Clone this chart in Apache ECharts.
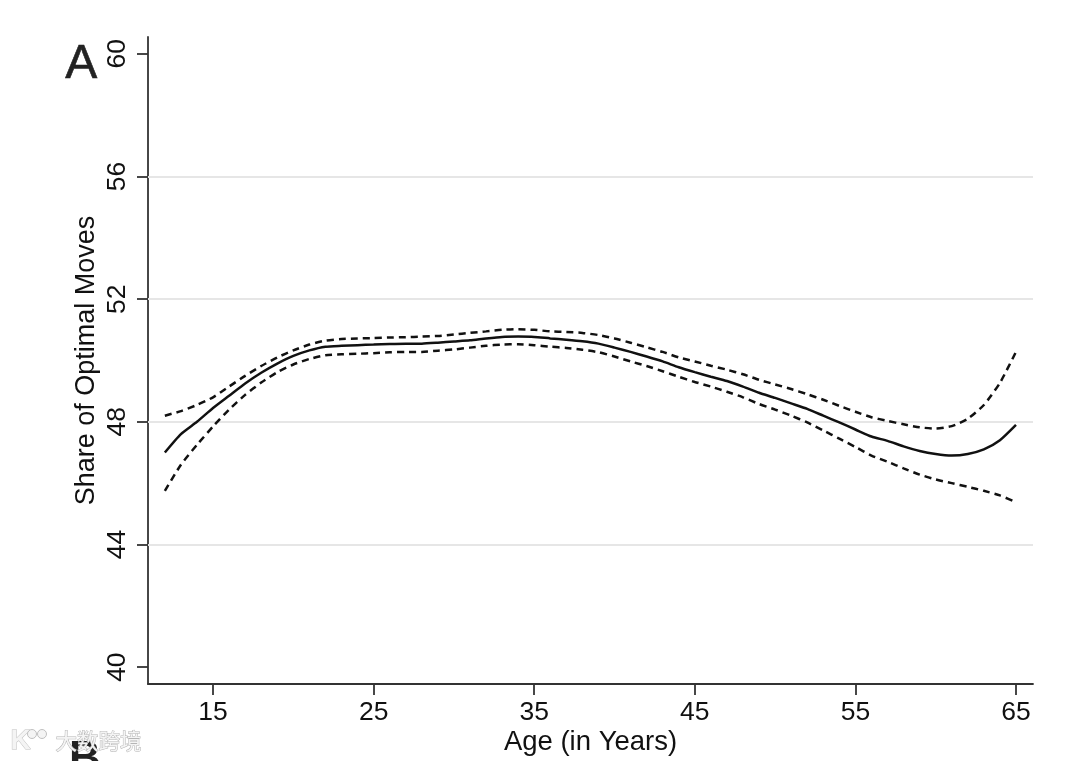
<!DOCTYPE html>
<html><head><meta charset="utf-8">
<style>html,body{margin:0;padding:0;background:#fff}#c{width:1080px;height:761px}</style>
<script src="https://cdn.jsdelivr.net/npm/echarts@6/dist/echarts.min.js"></script>
</head><body><div id="c"></div>
<script>
const ages = [12,13,14,15,16,17,18,19,20,21,22,23,24,25,26,27,28,29,30,31,32,33,34,35,36,37,38,39,40,41,42,43,44,45,46,47,48,49,50,51,52,53,54,55,56,57,58,59,60,61,62,63,64,65];
const mid = [47.0,47.6,48.0,48.45,48.85,49.25,49.6,49.9,50.15,50.33,50.45,50.48,50.5,50.52,50.54,50.55,50.55,50.58,50.62,50.66,50.72,50.77,50.78,50.77,50.72,50.68,50.63,50.55,50.42,50.28,50.13,49.97,49.78,49.62,49.47,49.33,49.15,48.95,48.78,48.6,48.42,48.2,47.98,47.75,47.52,47.38,47.2,47.05,46.95,46.9,46.95,47.1,47.4,47.9];
const upper = [48.2,48.35,48.55,48.8,49.15,49.5,49.82,50.1,50.33,50.52,50.65,50.7,50.72,50.73,50.75,50.76,50.78,50.8,50.85,50.9,50.95,51.0,51.02,51.0,50.95,50.93,50.9,50.83,50.72,50.58,50.43,50.28,50.1,49.97,49.83,49.7,49.55,49.37,49.22,49.07,48.9,48.72,48.52,48.33,48.15,48.03,47.92,47.82,47.78,47.86,48.1,48.55,49.27,50.28];
const lower = [45.75,46.6,47.25,47.85,48.4,48.88,49.28,49.62,49.87,50.05,50.17,50.2,50.22,50.24,50.27,50.28,50.28,50.32,50.36,50.42,50.48,50.52,50.53,50.5,50.45,50.41,50.35,50.27,50.13,49.97,49.82,49.65,49.47,49.3,49.15,48.98,48.8,48.58,48.4,48.2,47.98,47.72,47.45,47.18,46.9,46.7,46.48,46.28,46.12,46.0,45.88,45.75,45.6,45.38];
const xTicks = [15,25,35,45,55,65];
const yTicks = [40,44,48,52,56,60];
const gridValues = [44,48,52,56];
const yTitle = 'Share of Optimal Moves';
const xTitle = 'Age (in Years)';

const FONT = '"Liberation Sans", Arial, sans-serif';
const INK = '#333';
const zip = a => ages.map((x,i)=>[x,a[i]]);
const chart = echarts.init(document.getElementById('c'), null, {renderer:'canvas'});
chart.setOption({
  animation:false,
  backgroundColor:'#fff',
  grid:{left:148,right:47,top:37,height:647,outerBoundsMode:'none'},
  xAxis:{
    type:'value',min:10.95,max:66.06,
    name:xTitle,nameLocation:'middle',nameGap:44.5,nameMoveOverlap:false,
    nameTextStyle:{fontFamily:FONT,fontSize:27.5,color:'#111'},
    axisLine:{onZero:false,lineStyle:{color:INK,width:1.8}},
    axisTick:{length:11,customValues:xTicks,lineStyle:{color:INK,width:1.8}},
    axisLabel:{customValues:xTicks,margin:15,fontFamily:FONT,fontSize:26.5,color:'#111'},
    splitLine:{show:false}
  },
  yAxis:{
    type:'value',min:39.45,max:60.55,
    name:yTitle,nameLocation:'middle',nameGap:48,nameMoveOverlap:false,
    nameTextStyle:{fontFamily:FONT,fontSize:27,color:'#111'},
    axisLine:{onZero:false,lineStyle:{color:INK,width:1.8}},
    axisTick:{length:11,customValues:yTicks,lineStyle:{color:INK,width:1.8}},
    axisLabel:{customValues:yTicks,rotate:90,margin:17,fontFamily:FONT,fontSize:26.5,color:'#111'},
    splitLine:{show:false}
  },
  series:[
    {type:'line',data:zip(mid),showSymbol:false,smooth:0.2,lineStyle:{color:'#111',width:2.5},z:3,
     markLine:{silent:true,symbol:'none',label:{show:false},animation:false,z:1,
       lineStyle:{color:'#e6e6e6',width:2.2,type:'solid'},
       data:gridValues.map(v=>({yAxis:v}))}},
    {type:'line',data:zip(upper),showSymbol:false,smooth:0.2,lineStyle:{color:'#111',width:2.5,type:[7,5]},z:3},
    {type:'line',data:zip(lower),showSymbol:false,smooth:0.2,lineStyle:{color:'#111',width:2.5,type:[7,5]},z:3}
  ],
  graphic:[
    {type:'text',left:65,top:40,z:10,style:{text:'A',font:'48px '+FONT,fill:'#222',stroke:'#222',lineWidth:0.6}},
    {type:'text',left:69,top:738,z:10,style:{text:'B',font:'bold 44px '+FONT,fill:'#222'}},
    {type:'text',left:55,top:730,z:11,style:{text:'大数跨境',font:'21.5px "Noto Sans CJK SC"',fill:'#f4f4f4',stroke:'#b5b5b5',lineWidth:1}},
    {type:'text',left:10,top:727,z:11,style:{text:'K',font:'bold 28px '+FONT,fill:'#f4f4f4',stroke:'#c0c0c0',lineWidth:1}},
    {type:'circle',z:11,shape:{cx:32,cy:734,r:4.5},style:{fill:'#f4f4f4',stroke:'#c0c0c0',lineWidth:1}},
    {type:'circle',z:11,shape:{cx:42,cy:734,r:4.5},style:{fill:'#f4f4f4',stroke:'#c0c0c0',lineWidth:1}}
  ]
});
</script></body></html>
